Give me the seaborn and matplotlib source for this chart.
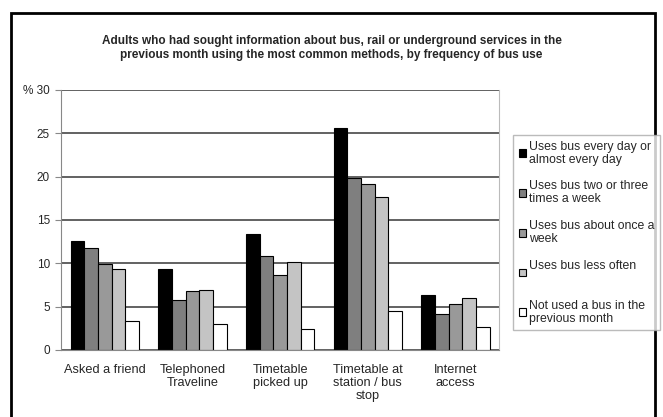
import pandas as pd
import numpy as np
import seaborn as sns
import matplotlib.pyplot as plt
from matplotlib.patches import Rectangle

categories = ["Asked a friend", "Telephoned\nTraveline", "Timetable\npicked up",
              "Timetable at\nstation / bus\nstop", "Internet\naccess"]
series = ["Uses bus every day or\nalmost every day",
          "Uses bus two or three\ntimes a week",
          "Uses bus about once a\nweek",
          "Uses bus less often\n ",
          "Not used a bus in the\nprevious month"]
every_day = [12.6, 9.4, 13.4, 25.6, 6.3]
two_three = [11.8, 5.8, 10.8, 19.9, 4.2]
once_week = [9.9, 6.8, 8.7, 19.2, 5.3]
less_often = [9.4, 6.9, 10.1, 17.6, 6.0]
not_used = [3.3, 3.0, 2.4, 4.5, 2.7]
yticks = [0, 5, 10, 15, 20, 25, 30]
ytick_labels = ["0", "5", "10", "15", "20", "25", "% 30"]

colors = ["#000000", "#7f7f7f", "#999999", "#c4c4c4", "#ffffff"]

rows = []
for s, vals in zip(series, [every_day, two_three, once_week, less_often, not_used]):
    for c, v in zip(categories, vals):
        rows.append({"category": c, "series": s, "value": v})
df = pd.DataFrame(rows)

sns.set_style("white")
plt.rcParams['font.family'] = ['Liberation Sans', 'DejaVu Sans']

fig = plt.figure(figsize=(6.63, 4.17), dpi=100)
ax = fig.add_axes([0.092, 0.1607, 0.661, 0.6235])

sns.barplot(data=df, x="category", y="value", hue="series", palette=colors,
            width=0.78, edgecolor="black", linewidth=0.8, ax=ax, legend=True)

ax.set_ylim(0, 30)
ax.set_xlim(-0.5, 4.5)
ax.set_yticks(yticks)
ax.set_yticklabels(ytick_labels, fontsize=8.5)
ax.yaxis.grid(True, color="#555555", linewidth=1.3)
ax.set_axisbelow(True)
ax.set_xlabel("")
ax.set_ylabel("")
ax.tick_params(axis="x", which="major", length=0, labelsize=9.2, pad=10)
ax.set_xticks(np.arange(-0.5, 5, 1), minor=True)
ax.tick_params(axis="x", which="minor", length=4, color="#888888", direction="out")
ax.tick_params(axis="y", length=4, color="#888888", direction="out", left=True, pad=4)
for lbl in ax.get_xticklabels():
    lbl.set_linespacing(1.1)
ax.spines["top"].set_visible(False)
ax.spines["left"].set_color("#888888")
ax.spines["bottom"].set_color("#888888")
ax.spines["right"].set_color("#bbbbbb")
ax.spines["right"].set_linewidth(0.8)

handles, labels = ax.get_legend_handles_labels()
ax.get_legend().remove()
leg = fig.legend(handles, labels, loc="upper left", bbox_to_anchor=(0.774, 0.676),
                 borderaxespad=0, fontsize=8.8, frameon=True, fancybox=False,
                 edgecolor="#aaaaaa", handlelength=0.6, handleheight=0.6,
                 handletextpad=0.25, labelspacing=1.2, borderpad=0.45)
for t in leg.get_texts():
    t.set_linespacing(1.12)

fig.suptitle("Adults who had sought information about bus, rail or underground services in the\n"
             "previous month using the most common methods, by frequency of bus use",
             x=0.5, y=0.915, fontsize=8.5, fontweight="bold", linespacing=1.2)

fig.patches.append(Rectangle((0.016, -0.01), 0.972, 0.978, transform=fig.transFigure,
                             fill=False, edgecolor="black", linewidth=2))

fig.savefig("out.png", dpi=100)
